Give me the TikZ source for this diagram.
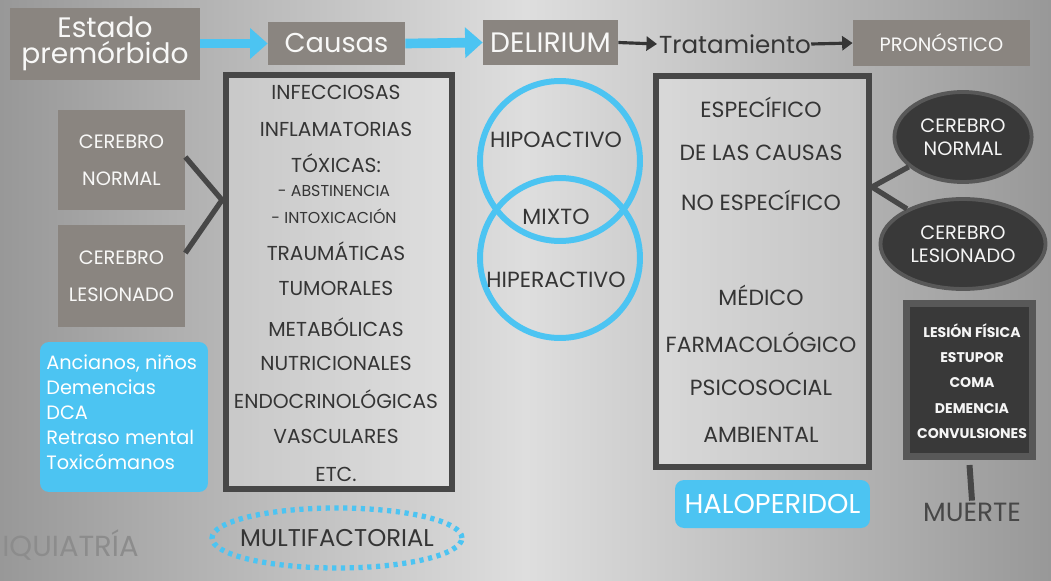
\documentclass[tikz,border=0pt]{standalone}
\usepackage{fontspec}
\setmainfont{Poppins}
\usetikzlibrary{arrows.meta,positioning,shapes.geometric}

\definecolor{taupe}{HTML}{8A8580}
\definecolor{skyblue}{HTML}{4CC4F2}
\definecolor{charcoal}{HTML}{474747}
\definecolor{inkgray}{HTML}{353535}
\definecolor{bgedge}{HTML}{989898}
\definecolor{bgmid}{HTML}{DEDEDE}
\definecolor{darkfill}{HTML}{393939}
\definecolor{darkrim}{HTML}{585858}

\begin{document}
\begin{tikzpicture}[
  x=0.02cm, y=-0.02cm,
  every node/.style={font=\small, text=inkgray},
  box/.style={
    fill=taupe,
    text=white!94!taupe,
    align=center,
    inner sep=0pt
  },
  frame/.style={
    draw=charcoal,
    line width=3.4pt,
    fill=white,
    fill opacity=0.25,
    inner sep=0pt
  },
  title/.style={font=\fontsize{16}{15}\selectfont},
  item/.style={font=\fontsize{11.5}{13}\selectfont, text=inkgray},
  subitem/.style={font=\fontsize{9}{10}\selectfont, text=inkgray},
  bluearrow/.style={-{Triangle[length=10pt,width=17pt]}, draw=skyblue, line width=5.5pt},
  darkarrow/.style={-{Triangle[length=6pt,width=8pt]}, draw=inkgray, line width=1.8pt},
  link/.style={draw=charcoal, line width=3pt},
  ring/.style={circle, draw=skyblue, line width=3.4pt, minimum size=3.2cm, inner sep=0pt},
  blob/.style={
    ellipse,
    fill=darkfill,
    draw=darkrim,
    line width=2.2pt,
    minimum width=2.46cm,
    minimum height=1.8cm,
    align=center,
    text=white!92!gray,
    font=\fontsize{11}{13}\selectfont
  },
  pill/.style={fill=skyblue, rounded corners=0.18cm, text=white, inner sep=0pt}
]
\useasboundingbox (0,0) rectangle (1051,581);
\shade[left color=bgedge, right color=bgedge, middle color=bgmid] (0,0) rectangle (1051,581);

% top row
\node[box, title, minimum width=3.8cm, minimum height=1.44cm] (estado) at (105,44)
  {Estado\\premórbido};
\node[box, font=\fontsize{15.5}{17}\selectfont, minimum width=2.74cm, minimum height=0.86cm] (causas) at (336.5,43.5) {Causas};
\node[box, title, minimum width=2.7cm, minimum height=0.9cm] (delirium) at (550.5,42.5) {DELIRIUM};
\node[font=\fontsize{14}{16}\selectfont, inner sep=0pt] (trat) at (735,44) {Tratamiento};
\node[box, font=\fontsize{11}{13}\selectfont, minimum width=3.54cm, minimum height=0.92cm] (pron) at (941.5,43) {PRONÓSTICO};
\draw[bluearrow] (estado.east |- causas.west) -- (causas.west);
\draw[bluearrow] (causas.east) -- (delirium.west);
\draw[darkarrow] (delirium.east) -- ([xshift=-1pt]trat.west);
\draw[darkarrow] (trat.east) -- (pron.west);

% causes
\node[frame, minimum width=4.52cm, minimum height=8.28cm] (causebox) at (339,282) {};
\foreach \y/\t in {92/INFECCIOSAS, 129/INFLAMATORIAS, 163/TÓXICAS:, 251/TRAUMÁTICAS,
  288/TUMORALES, 327/METABÓLICAS, 363/NUTRICIONALES, 399/ENDOCRINOLÓGICAS,
  436/VASCULARES, 474/ETC.}
  \node[item] (cause-\y) at (336,\y) {\t};
\foreach \y/\t in {191/- ABSTINENCIA, 216/- INTOXICACIÓN}
  \node[subitem] (cause-\y) at (334,\y) {\t};

% premorbid state
\node[box, font=\fontsize{11}{21}\selectfont, minimum width=2.54cm, minimum height=2cm] (cn) at (121.5,160)
  {CEREBRO\\NORMAL};
\node[box, font=\fontsize{11}{21}\selectfont, minimum width=2.54cm, minimum height=2.04cm] (cl) at (121.5,276)
  {CEREBRO\\LESIONADO};
\coordinate (lj) at (222,200);
\draw[link] ([yshift=0.06cm]cn.east) -- (lj) -- ([yshift=0.46cm]cl.east);

\node[pill, minimum width=3.36cm, minimum height=3cm] (risk) at (124,417) {};
\node[anchor=west, align=left, text=white, font=\fontsize{11}{14.2}\selectfont, inner sep=0pt] (risktext) at (46,412)
  {Ancianos, niños\\Demencias\\DCA\\Retraso mental\\Toxicómanos};

\node[anchor=west, text=black!45!white, font=\fontsize{16.5}{18}\selectfont, inner sep=0pt] (psiq) at (2,545) {IQUIATRÍA};

\node[ellipse, draw=skyblue, line width=3pt, dash pattern=on 2.4pt off 2.6pt,
  minimum width=5.0cm, minimum height=1.2cm] (multiring) at (337,538) {};
\node[font=\fontsize{13.8}{15}\selectfont] (multi) at (337,538) {MULTIFACTORIAL};

% subtypes
\node[ring] (hypo) at (560,161) {};
\node[ring] (hyper) at (560,258) {};
\node[item, font=\fontsize{12.5}{14}\selectfont] (hypotext) at (556,140) {HIPOACTIVO};
\node[item, font=\fontsize{12.5}{14}\selectfont] (mixto) at (556,217) {MIXTO};
\node[item, font=\fontsize{12.5}{14}\selectfont] (hypertext) at (556,280) {HIPERACTIVO};

% treatment
\node[frame, minimum width=4.26cm, minimum height=7.82cm] (tratbox) at (762.5,271.5) {};
\foreach \y/\t in {107/ESPECÍFICO, 153/DE LAS CAUSAS, 200/NO ESPECÍFICO, 295/MÉDICO,
  342/FARMACOLÓGICO, 388/PSICOSOCIAL, 435/AMBIENTAL}
  \node[item, font=\fontsize{12.5}{14}\selectfont] (trat-\y) at (761,\y) {\t};
\node[pill, font=\fontsize{15.5}{17}\selectfont, minimum width=3.9cm, minimum height=0.96cm] (halo) at (772.5,504) {HALOPERIDOL};

% prognosis
\node[blob] (rn) at (963,137) {CEREBRO\\NORMAL};
\node[blob] (rl) at (963,244) {CEREBRO\\LESIONADO};
\coordinate (rj) at (872,187);
\draw[link] (rn) -- (rj) -- (rl);

\node[fill=darkfill, draw=darkrim, line width=4pt, minimum width=2.52cm, minimum height=3.06cm, inner sep=0pt] (outcome) at (969.5,380) {};
\node[align=center, text=white!92!gray, font=\bfseries\fontsize{8}{14.4}\selectfont, inner sep=0pt] (outtext) at (972,381)
  {LESIÓN FÍSICA\\ESTUPOR\\COMA\\DEMENCIA\\CONVULSIONES};
\node[font=\fontsize{15}{16}\selectfont, text=charcoal, inner sep=1pt] (muerte) at (972,512) {MUERTE};
\draw[draw=charcoal, line width=3.4pt] ([yshift=-0.1cm]outcome.south) -- (muerte.north);
\end{tikzpicture}
\end{document}
